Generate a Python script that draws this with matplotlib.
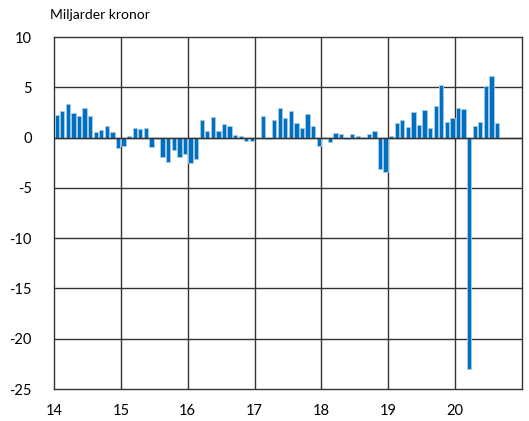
import numpy as np
import matplotlib
matplotlib.use('Agg')
import matplotlib.pyplot as plt
import matplotlib.transforms as mtransforms

# Månadsvärden, miljarder kronor
y2014 = [2.25, 2.65, 3.35, 2.45, 2.1, 2.9, 2.1, 0.56, 0.76, 1.13, 0.53, -1.06]
y2015 = [-0.83, 0.2, 1.0, 0.83, 0.93, -0.9, -0.13, -1.95, -2.4, -1.2, -1.9, -1.65]
y2016 = [-2.5, -2.1, 1.8, 0.63, 2.05, 0.63, 1.36, 1.13, 0.23, 0.13, -0.33, -0.33]
y2017 = [0.0, 2.1, -0.17, 1.75, 2.9, 1.92, 2.6, 1.42, 0.93, 2.3, 1.13, -0.83]
y2018 = [0.0, -0.4, 0.43, 0.36, -0.1, 0.36, 0.17, 0.03, 0.36, 0.63, -3.15, -3.38]
y2019 = [0.17, 1.5, 1.75, 1.06, 2.5, 1.23, 2.7, 0.96, 3.1, 5.26, 1.56, 1.95]
y2020 = [2.9, 2.85, -23.0, 1.13, 1.52, 5.16, 6.15, 1.46]

years = [2014, 2015, 2016, 2017, 2018, 2019, 2020]
series = [y2014, y2015, y2016, y2017, y2018, y2019, y2020]
x_labels = ['14', '15', '16', '17', '18', '19', '20']
y_ticks = [10, 5, 0, -5, -10, -15, -20, -25]

xs = []
vals = []
for yr, s in zip(years, series):
    for m, v in enumerate(s):
        xs.append(yr + (m + 0.5) / 12)
        vals.append(v)

plt.rcParams['font.family'] = ['Lato', 'DejaVu Sans']

fig = plt.figure(figsize=(5.29, 4.21), dpi=100)
ax = fig.add_axes([0.102, 0.076, 0.885, 0.836])

ax.bar(xs, vals, width=0.77 / 12, color='#0070c0', edgecolor='#a9cbe8', linewidth=0.6, zorder=3)

ax.set_xlim(2014, 2021)
ax.set_ylim(-25, 10)
ax.set_yticks(y_ticks)
ax.set_yticklabels([str(t) for t in y_ticks], fontsize=10.5)
ax.set_xticks(years)
ax.set_xticklabels(x_labels, fontsize=10.5)
offset = mtransforms.ScaledTranslation(3 / 100, 0, fig.dpi_scale_trans)
for lab in ax.get_xticklabels():
    lab.set_transform(lab.get_transform() + offset)
ax.tick_params(axis='both', length=0)
ax.tick_params(axis='y', pad=16)
ax.tick_params(axis='x', pad=11)

for yr in years[1:]:
    ax.axvline(yr, color='#333333', linewidth=1.0, zorder=1)
for t in y_ticks[1:-1]:
    ax.axhline(t, color='#333333', linewidth=1.0, zorder=1)
ax.axhline(0, color='#333333', linewidth=1.0, zorder=4)
for sp in ax.spines.values():
    sp.set_color('#333333')
    sp.set_linewidth(1.0)

fig.text(50 / 529, 1 - 15 / 421, 'Miljarder kronor', fontsize=10, va='center', ha='left')

fig.savefig('out.png', dpi=100)
